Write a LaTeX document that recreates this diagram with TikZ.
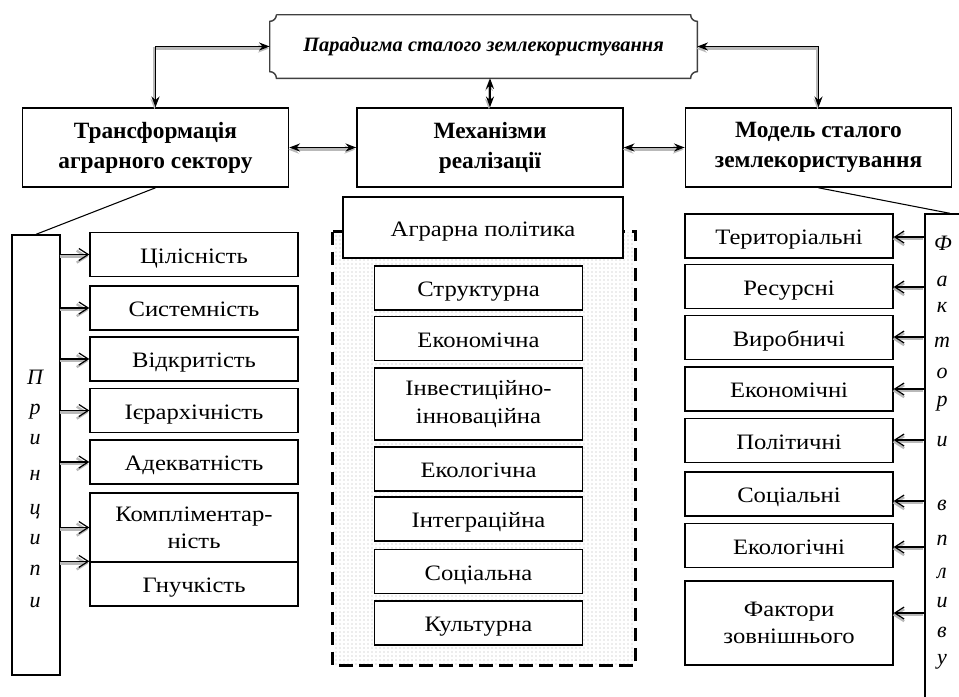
\documentclass[tikz,border=0pt]{standalone}
\usepackage{fontspec}
\setmainfont{Liberation Serif}
\newfontfamily\wideserif[FakeStretch=1.12]{Liberation Serif}
\usetikzlibrary{arrows.meta,patterns}

\begin{document}
\begin{tikzpicture}[x=0.75pt,y=-0.75pt,
    head/.style={draw, line width=1.2pt, fill=white, inner sep=0pt, minimum width=199.5pt, minimum height=59.25pt, align=center, font=\fontsize{17.5}{22.5}\selectfont\bfseries},
    item/.style={draw, line width=1pt, fill=white, inner sep=0pt, minimum width=156pt, minimum height=33pt, align=center, text height=14.5pt, text depth=1.5pt, font=\wideserif\fontsize{16.5}{20.5}\selectfont},
    twoline/.style={text height={}, text depth={}},
    letter/.style={inner sep=0pt, font=\fontsize{16.5}{18}\selectfont\itshape},
    pin/.style={line width=0.9pt, -{Straight Barb[length=7pt,width=9pt]}, preaction={draw=gray!55, line width=1.8pt, transform canvas={xshift=-0.8pt,yshift=-1.6pt}}},
    link/.style={line width=1pt, {Stealth[length=8pt,width=6pt]}-{Stealth[length=8pt,width=6pt]}, preaction={draw=gray!55, line width=1.8pt, transform canvas={xshift=-0.8pt,yshift=-1.6pt}}}]
    \path[use as bounding box, clip] (0,0) rectangle (959,696);

    % Top
    \node[minimum width=320.25pt, minimum height=47.25pt, inner sep=0pt, font=\fontsize{15.3}{17}\selectfont\bfseries\itshape] (par) at (483.5,46.5) {Парадигма сталого землекористування};
    \draw[gray!50!black, line width=1.1pt]
        ([xshift=5pt]par.north west) -- ([xshift=-5pt]par.north east)
        arc[start angle=180, end angle=270, radius=5pt]
        -- ([yshift=5pt]par.south east)
        arc[start angle=90, end angle=180, radius=5pt]
        -- ([xshift=5pt]par.south west)
        arc[start angle=0, end angle=90, radius=5pt]
        -- ([yshift=-5pt]par.north west)
        arc[start angle=270, end angle=360, radius=5pt];

    \node[head] (tr) at (155.5,147.5) {Трансформація\\аграрного сектору};
    \node[head] (mech) at (490,147.5) {Механізми\\реалізації};
    \node[head] (mod) at (818.5,147.5) {Модель сталого\\землекористування};

    \draw[link] (par.west) -| (tr.north);
    \draw[link] (par.east) -| (mod.north);
    \draw[link] (par.south -| mech.north) -- (mech.north);
    \draw[link] (tr.east) -- (mech.west);
    \draw[link] (mech.east) -- (mod.west);

    % Principles
    \node[draw, line width=1pt, inner sep=0pt, minimum width=36pt, minimum height=330pt] (pr) at (36,455) {};
    \draw[line width=0.8pt] (tr.south) -- (pr.north);
    \node[letter] (p1) at (35,377) {П};
    \node[letter] (p2) at (35,412) {р};
    \node[letter] (p3) at (35,440) {и};
    \node[letter] (p4) at (35,475) {н};
    \node[letter] (p5) at (35,512) {ц};
    \node[letter] (p6) at (35,540) {и};
    \node[letter] (p7) at (35,570) {п};
    \node[letter] (p8) at (35,603) {и};

    \node[item] (c1) at (194,254.5) {Цілісність};
    \node[item] (c2) at (194,308) {Системність};
    \node[item] (c3) at (194,359) {Відкритість};
    \node[item] (c4) at (194,410.5) {Ієрархічність};
    \node[item] (c5) at (194,462) {Адекватність};
    \node[item, twoline, minimum height=51.75pt] (c6) at (194,527.5) {Компліментар-\\ність};
    \node[item] (c7) at (194,584) {Гнучкість};

    \draw[pin] (pr.east |- c1) -- (c1.west);
    \draw[pin] (pr.east |- c2) -- (c2.west);
    \draw[pin] (pr.east |- c3) -- (c3.west);
    \draw[pin] (pr.east |- c4) -- (c4.west);
    \draw[pin] (pr.east |- c5) -- (c5.west);
    \draw[pin] (pr.east |- c6) -- (c6.west);
    \draw[pin] (pr.east |- c7.north) -- (c7.north west);

    % Policy
    \node[pattern=dots, pattern color=gray!60, inner sep=0pt, minimum width=226.5pt, minimum height=324.75pt] (zone) at (484,448.5) {};
    \draw[line width=2.4pt, dash pattern=on 10pt off 5pt] (zone.north west) rectangle (zone.south east);
    \node[item, line width=1.2pt, minimum width=210pt, minimum height=45.75pt] (ap) at (483,227.5) {Аграрна політика};
    \node[item] (m1) at (478.5,288) {Структурна};
    \node[item] (m2) at (478.5,338.5) {Економічна};
    \node[item, twoline, minimum height=54pt] (m3) at (478.5,404) {Інвестиційно-\\інноваційна};
    \node[item] (m4) at (478.5,469) {Екологічна};
    \node[item] (m5) at (478.5,519) {Інтеграційна};
    \node[item] (m6) at (478.5,571.5) {Соціальна};
    \node[item] (m7) at (478.5,623) {Культурна};

    % Factors
    \node[draw, line width=1pt, inner sep=0pt, minimum width=37.5pt, minimum height=387pt] (fv) at (950,472) {};
    \draw[line width=0.8pt] (mod.south) -- (fv.north);
    \node[letter] (l1) at (943,243) {Ф};
    \node[letter] (l2) at (942,281) {а};
    \node[letter] (l3) at (942,307) {к};
    \node[letter] (l4) at (942,342) {т};
    \node[letter] (l5) at (942,373) {о};
    \node[letter] (l6) at (942,404) {р};
    \node[letter] (l7) at (942,442) {и};
    \node[letter] (l8) at (942,505) {в};
    \node[letter] (l9) at (942,540) {п};
    \node[letter] (l10) at (942,573) {л};
    \node[letter] (l11) at (942,603) {и};
    \node[letter] (l12) at (942,632) {в};
    \node[letter] (l13) at (942,662) {у};

    \node[item] (f1) at (789,236) {Територіальні};
    \node[item] (f2) at (789,286.5) {Ресурсні};
    \node[item] (f3) at (789,337.5) {Виробничі};
    \node[item] (f4) at (789,389) {Економічні};
    \node[item] (f5) at (789,440.5) {Політичні};
    \node[item] (f6) at (789,494) {Соціальні};
    \node[item] (f7) at (789,545.5) {Екологічні};
    \node[item, twoline, minimum height=63pt] (f8) at (789,623) {Фактори\\зовнішнього};

    \draw[pin] (fv.west |- 0,237) -- (f1.east |- 0,237);
    \draw[pin] (fv.west |- 0,287) -- (f2.east |- 0,287);
    \draw[pin] (fv.west |- 0,337) -- (f3.east |- 0,337);
    \draw[pin] (fv.west |- 0,389) -- (f4.east |- 0,389);
    \draw[pin] (fv.west |- 0,440) -- (f5.east |- 0,440);
    \draw[pin] (fv.west |- 0,501) -- (f6.east |- 0,501);
    \draw[pin] (fv.west |- 0,547) -- (f7.east |- 0,547);
    \draw[pin] (fv.west |- 0,613) -- (f8.east |- 0,613);
\end{tikzpicture}
\end{document}
